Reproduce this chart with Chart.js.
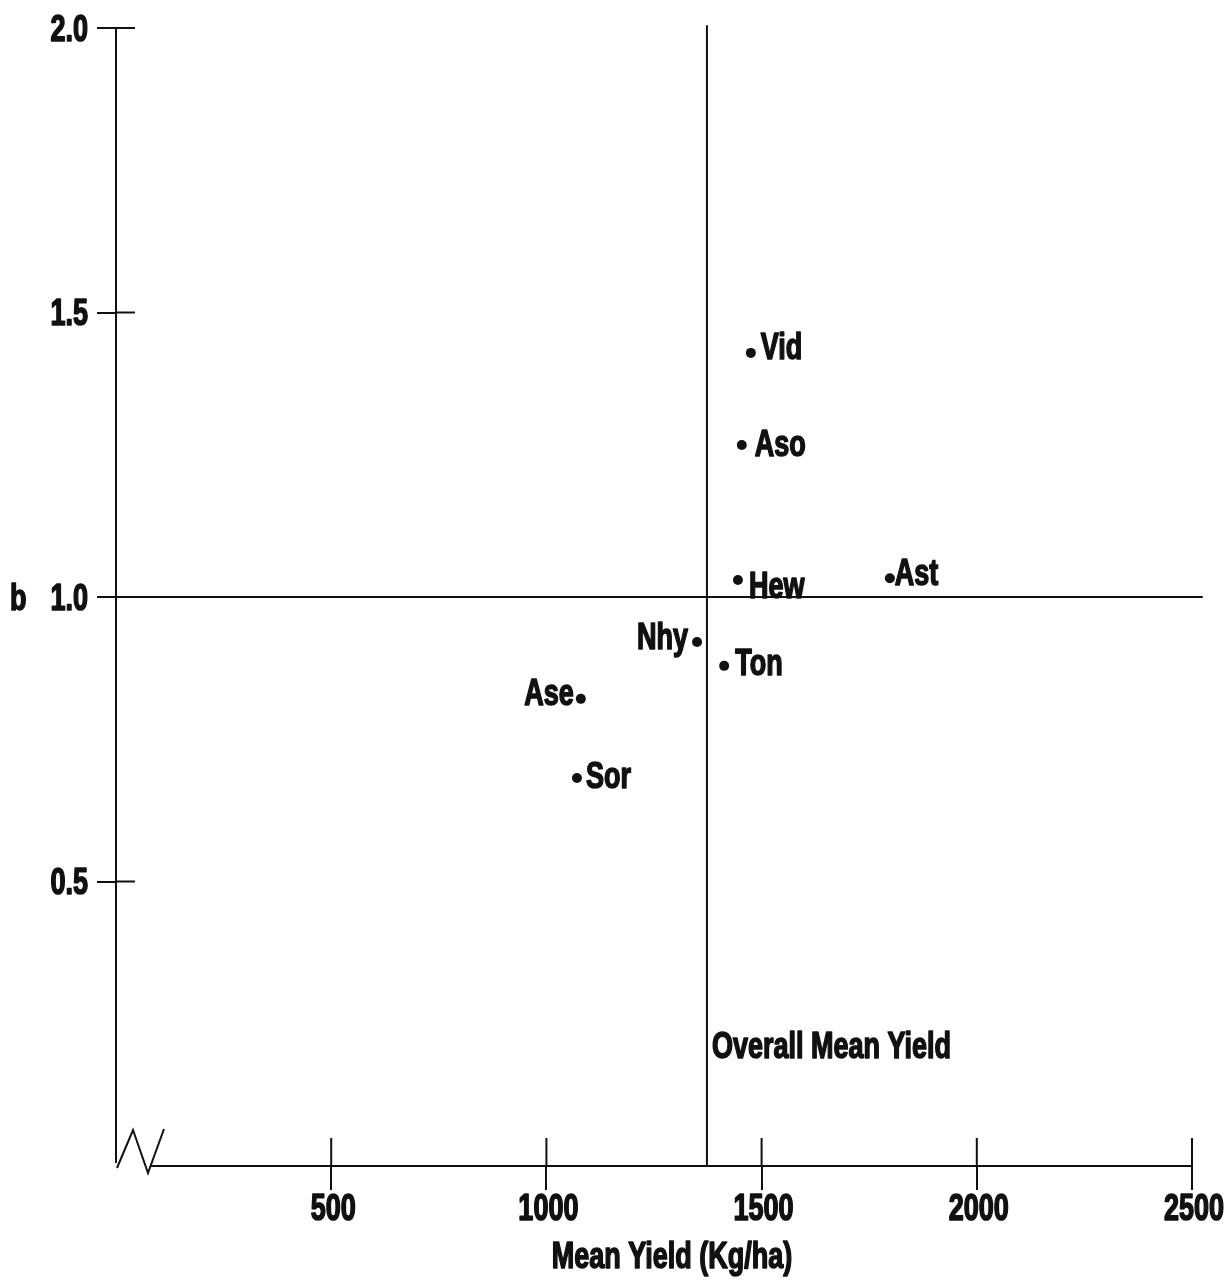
<!DOCTYPE html>
<html>
<head>
<meta charset="utf-8">
<script src="https://cdn.jsdelivr.net/npm/chart.js@4.4.1/dist/chart.umd.min.js"></script>
<style>
  html, body { margin: 0; padding: 0; background: #ffffff; }
  #wrap { width: 1226px; height: 1281px; }
</style>
</head>
<body>
<div id="wrap"><canvas id="c" width="1226" height="1281"></canvas></div>
<script>
// ---------- data ----------
const genotypes   = ['Vid', 'Aso', 'Hew', 'Ast', 'Nhy', 'Ton', 'Ase', 'Sor'];
const meanYield   = [1475, 1454, 1445, 1798, 1350, 1413, 1080, 1071];   // Kg/ha
const stabilityB  = [1.429, 1.267, 1.030, 1.033, 0.921, 0.879, 0.821, 0.682];
const overallMean = 1373;
const xTickValues = [500, 1000, 1500, 2000, 2500];
const xTickLabels = ['500', '1000', '1500', '2000', '2500'];
const yTickValues = [0.5, 1.0, 1.5, 2.0];
const yTickLabels = ['0.5', '1.0', '1.5', '2.0'];
const xTitle = 'Mean Yield (Kg/ha)';
const yTitle = 'b';
const meanLineLabel = 'Overall Mean Yield';

// ---------- presentation (label placement, styles) ----------
const labelPlacement = {
  Vid: { side: 'right', dx: 10, dy: -7 },
  Aso: { side: 'right', dx: 13, dy: -2 },
  Hew: { side: 'right', dx: 11, dy: 5 },
  Ast: { side: 'right', dx: 5,  dy: -6 },
  Nhy: { side: 'left',  dx: -9, dy: -6 },
  Ton: { side: 'right', dx: 11, dy: -4 },
  Ase: { side: 'left',  dx: -7, dy: -7 },
  Sor: { side: 'right', dx: 9,  dy: -3 }
};
const FONT_FAMILY = '"Liberation Sans", Arial, sans-serif';
const FONT_SIZE = 36;
const SX = 0.75;           // horizontal condensing of the typeface
const INK = '#111111';

function drawText(ctx, text, x, capCenterY, align, size) {
  size = size || FONT_SIZE;
  ctx.save();
  ctx.font = 'bold ' + size + 'px ' + FONT_FAMILY;
  ctx.fillStyle = INK;
  ctx.strokeStyle = INK;
  ctx.lineWidth = 1.6;
  ctx.lineJoin = 'round';
  ctx.textBaseline = 'alphabetic';
  ctx.textAlign = align;
  ctx.translate(x, capCenterY + 0.358 * size);
  ctx.scale(SX, 1);
  ctx.fillText(text, 0, 0);
  ctx.strokeText(text, 0, 0);
  ctx.restore();
}

const decorPlugin = {
  id: 'decor',
  afterDraw(chart) {
    const ctx = chart.ctx;
    const xs = chart.scales.x, ys = chart.scales.y;
    const ca = chart.chartArea;
    const L = ca.left, B = ca.bottom;
    ctx.save();
    ctx.strokeStyle = INK;
    ctx.lineWidth = 2;
    ctx.lineCap = 'butt';
    // y axis line
    ctx.beginPath();
    ctx.moveTo(L, ys.getPixelForValue(2.0));
    ctx.lineTo(L, B - 3);
    ctx.stroke();
    // axis break zigzag + x axis line
    ctx.beginPath();
    ctx.moveTo(L + 1, B + 2);
    ctx.lineTo(L + 17, B - 36);
    ctx.lineTo(L + 32, B + 7);
    ctx.lineTo(L + 48, B - 37);
    ctx.stroke();
    ctx.beginPath();
    ctx.moveTo(L + 35, B);
    ctx.lineTo(xs.getPixelForValue(2500), B);
    ctx.stroke();
    // inner parts of tick marks
    yTickValues.forEach(v => {
      const y = ys.getPixelForValue(v);
      ctx.beginPath(); ctx.moveTo(L, y); ctx.lineTo(L + 19, y); ctx.stroke();
    });
    xTickValues.forEach(v => {
      const x = xs.getPixelForValue(v);
      ctx.beginPath(); ctx.moveTo(x, B); ctx.lineTo(x, B - 28); ctx.stroke();
    });
    ctx.restore();

    // tick labels
    yTickValues.forEach((v, i) => {
      drawText(ctx, yTickLabels[i], L - 28, ys.getPixelForValue(v), 'right');
    });
    xTickValues.forEach((v, i) => {
      drawText(ctx, xTickLabels[i], xs.getPixelForValue(v) + 2, B + 41, 'center');
    });
    // axis titles
    drawText(ctx, yTitle, 10, ys.getPixelForValue(1.0), 'left');
    drawText(ctx, xTitle, (L + xs.getPixelForValue(2500)) / 2 + 18, B + 89, 'center');
    // mean line label
    drawText(ctx, meanLineLabel, xs.getPixelForValue(overallMean) + 5, ys.getPixelForValue(0.213), 'left');
    // point labels
    genotypes.forEach((g, i) => {
      const p = labelPlacement[g];
      const x = xs.getPixelForValue(meanYield[i]) + p.dx;
      const y = ys.getPixelForValue(stabilityB[i]) + p.dy;
      drawText(ctx, g, x, y, p.side === 'left' ? 'right' : 'left');
    });
  }
};

const points = genotypes.map((g, i) => ({ x: meanYield[i], y: stabilityB[i] }));

new Chart(document.getElementById('c'), {
  type: 'scatter',
  data: {
    datasets: [
      {
        label: 'Genotypes',
        data: points,
        pointRadius: 5,
        pointHoverRadius: 5,
        pointBackgroundColor: INK,
        pointBorderColor: INK,
        pointBorderWidth: 0
      },
      {
        type: 'line',
        label: 'Overall mean yield',
        data: [{ x: overallMean, y: 0 }, { x: overallMean, y: 2.005 }],
        borderColor: INK, borderWidth: 2, pointRadius: 0, clip: false, fill: false
      },
      {
        type: 'line',
        label: 'b = 1',
        data: [{ x: 0, y: 1.0 }, { x: 2525, y: 1.0 }],
        borderColor: INK, borderWidth: 2, pointRadius: 0, clip: false, fill: false
      }
    ]
  },
  options: {
    responsive: false,
    animation: false,
    events: [],
    layout: { padding: { top: 28, right: 34, left: 0, bottom: 0 } },
    plugins: { legend: { display: false }, tooltip: { enabled: false } },
    scales: {
      x: {
        type: 'linear', min: 0, max: 2500,
        afterBuildTicks: s => { s.ticks = xTickValues.map(v => ({ value: v })); },
        afterFit: s => { s.height = 115; },
        ticks: { display: false },
        border: { display: false },
        grid: { drawOnChartArea: false, drawTicks: true, tickLength: 24, color: INK, lineWidth: 2 }
      },
      y: {
        type: 'linear', min: 0, max: 2.0,
        afterBuildTicks: s => { s.ticks = yTickValues.map(v => ({ value: v })); },
        afterFit: s => { s.width = 116; },
        ticks: { display: false },
        border: { display: false },
        grid: { drawOnChartArea: false, drawTicks: true, tickLength: 19, color: INK, lineWidth: 2 }
      }
    }
  },
  plugins: [decorPlugin]
});
</script>
</body>
</html>
